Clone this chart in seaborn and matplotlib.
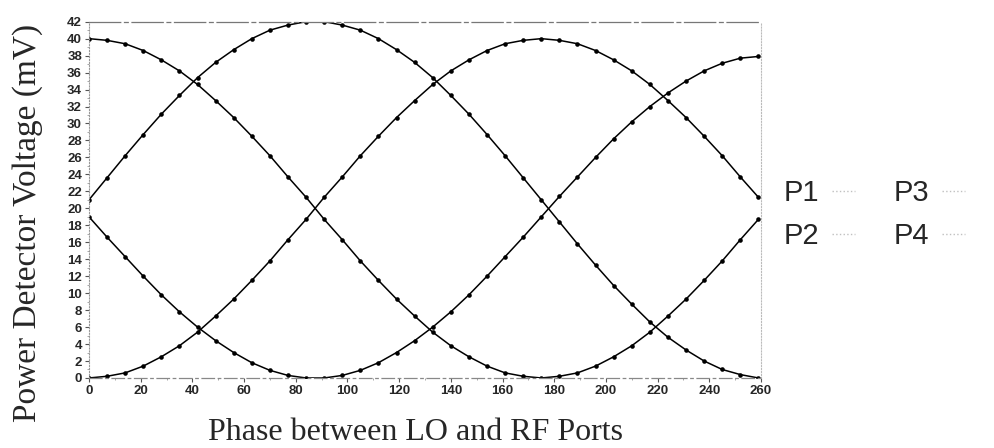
import matplotlib
matplotlib.use("Agg")
import pandas as pd
import matplotlib.pyplot as plt
import seaborn as sns
from matplotlib.ticker import MultipleLocator

# phase between LO and RF ports (deg) and detector voltages (mV)
phase = [0, 7, 14, 21, 28, 35, 42, 49, 56, 63, 70, 77, 84, 91, 98, 105, 112, 119, 126,
         133, 140, 147, 154, 161, 168, 175, 182, 189, 196, 203, 210, 217, 224, 231, 238,
         245, 252, 259]
p1 = [40.0, 39.8, 39.4, 38.6, 37.5, 36.2, 34.6, 32.7, 30.7, 28.5, 26.2, 23.7, 21.3, 18.7,
      16.3, 13.8, 11.5, 9.3, 7.3, 5.4, 3.8, 2.5, 1.4, 0.6, 0.2, 0.0, 0.2, 0.6, 1.4, 2.5,
      3.8, 5.4, 7.3, 9.3, 11.5, 13.8, 16.3, 18.7]
p2 = [21.0, 23.6, 26.2, 28.7, 31.1, 33.3, 35.4, 37.2, 38.7, 40.0, 41.0, 41.6, 42.0, 42.0,
      41.6, 41.0, 40.0, 38.7, 37.2, 35.4, 33.3, 31.1, 28.7, 26.2, 23.6, 21.0, 18.4, 15.8,
      13.3, 10.9, 8.7, 6.6, 4.8, 3.3, 2.0, 1.0, 0.4, 0.0]
p3 = [19.0, 16.6, 14.3, 12.0, 9.8, 7.8, 6.0, 4.4, 3.0, 1.8, 0.9, 0.3, 0.0, 0.0, 0.3, 0.9,
      1.8, 3.0, 4.4, 6.0, 7.8, 9.8, 12.0, 14.3, 16.6, 19.0, 21.4, 23.7, 26.0, 28.2, 30.2,
      32.0, 33.6, 35.0, 36.2, 37.1, 37.7, 37.9]
p4 = [0.0, 0.2, 0.6, 1.4, 2.5, 3.8, 5.4, 7.3, 9.3, 11.5, 13.8, 16.3, 18.7, 21.3, 23.7,
      26.2, 28.5, 30.7, 32.7, 34.6, 36.2, 37.5, 38.6, 39.4, 39.8, 40.0, 39.8, 39.4, 38.6,
      37.5, 36.2, 34.6, 32.7, 30.7, 28.5, 26.2, 23.7, 21.3]
ports = ["P1", "P2", "P3", "P4"]

sns.set_theme(style="white")
plt.rcParams['font.family'] = ['Liberation Sans', 'DejaVu Sans']

data = pd.DataFrame({
    "Phase": phase * 4,
    "Voltage": p1 + p2 + p3 + p4,
    "Port": [p for p in ports for _ in phase],
})

fig = plt.figure(figsize=(9.94, 4.48), dpi=100)
ax = fig.add_axes([0.0895, 0.1563, 0.6761, 0.7953])

sns.lineplot(data=data, x="Phase", y="Voltage", hue="Port", palette=["black"] * 4,
             marker="o", markersize=3.3, markeredgewidth=0, linewidth=1.1, ax=ax)

ax.set_xlim(0, 260)
ax.set_ylim(0, 42)
ax.xaxis.set_major_locator(MultipleLocator(20))
ax.xaxis.set_minor_locator(MultipleLocator(10))
ax.yaxis.set_major_locator(MultipleLocator(2))
ax.yaxis.set_minor_locator(MultipleLocator(1))
ax.tick_params(which="major", direction="out", length=3, width=0.8, color="#555555",
               labelsize=9.5, pad=2, bottom=True, left=True)
ax.tick_params(which="minor", direction="out", length=1.5, width=0.6, color="#999999",
               bottom=True, left=True)
for lab in ax.get_xticklabels() + ax.get_yticklabels():
    lab.set_fontweight("bold")
ax.set_xlabel("")
ax.set_ylabel("")

# scanned-looking frame
ax.spines["left"].set(color="#999999", linestyle=":", linewidth=0.8)
ax.spines["right"].set(color="#bbbbbb", linestyle=":", linewidth=0.8)
ax.spines["top"].set(color="#777777", linestyle=(0, (25, 3, 3, 3)), linewidth=0.9)
ax.spines["bottom"].set(color="#888888", linestyle=(0, (10, 3, 2, 3)), linewidth=0.9)

handles, labels = ax.get_legend_handles_labels()
ax.get_legend().remove()
leg = fig.legend(handles, labels, ncol=2, loc="center left", bbox_to_anchor=(0.788, 0.521),
                 frameon=False, markerfirst=False,
                 prop=dict(family=["Liberation Sans Narrow", "Liberation Sans"], size=21),
                 handlelength=0.8, handletextpad=0.45, columnspacing=1.3,
                 labelspacing=0.5, borderpad=0, borderaxespad=0)
for h in leg.legend_handles:
    h.set_color("#c0c0c0")
    h.set_linestyle(":")
    h.set_marker("")
    h.set_linewidth(1)

fig.text(0.028, 0.502, "Power Detector Voltage (mV)", rotation=90, ha="center", va="center",
         family=["Liberation Serif", "DejaVu Serif"], size=24)
fig.text(0.4185, 0.0335, "Phase between LO and RF Ports", ha="center", va="center",
         family=["Liberation Serif", "DejaVu Serif"], size=23)

fig.savefig("out.png", dpi=100)
